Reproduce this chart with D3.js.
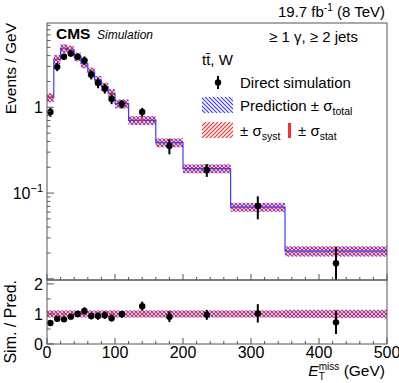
<!DOCTYPE html>
<html>
<head>
<meta charset="utf-8">
<script src="https://cdn.jsdelivr.net/npm/d3@7"></script>
<style>
  body { margin: 0; background: #fff; }
  text { font-family: "Liberation Sans", Arial, Helvetica, sans-serif; fill: #000; }
</style>
</head>
<body>
<div id="chart"></div>
<script>
// MET distribution, ttbar + W, >=1 photon >=2 jets
var binEdges = [0, 10, 20, 30, 40, 50, 60, 70, 80, 90, 100, 120, 160, 200, 270, 350, 500];
var predVals = [1.30, 3.63, 4.85, 4.65, 3.88, 3.23, 2.59, 2.07, 1.73, 1.45, 1.10, 0.705, 0.387, 0.193, 0.0687, 0.0211];
var simVals  = [0.88, 2.96, 3.88, 4.23, 3.88, 3.52, 2.40, 1.92, 1.66, 1.25, 1.09, 0.88, 0.354, 0.186, 0.0706, 0.0152];
var simRelErr = [0.12, 0.11, 0.08, 0.08, 0.08, 0.11, 0.12, 0.13, 0.13, 0.13, 0.11, 0.12, 0.20, 0.17, 0.30, 0.54];
var ratioVals = [0.70, 0.84, 0.82, 0.91, 1.00, 1.10, 0.93, 0.93, 0.96, 0.86, 0.99, 1.26, 0.91, 0.97, 1.02, 0.72];
var totRelErr  = [0.12, 0.12, 0.12, 0.12, 0.12, 0.12, 0.12, 0.12, 0.12, 0.12, 0.12, 0.12, 0.12, 0.12, 0.12, 0.14];
var systRelErr = [0.11, 0.11, 0.11, 0.11, 0.11, 0.11, 0.11, 0.11, 0.11, 0.11, 0.11, 0.11, 0.11, 0.11, 0.11, 0.12];
var statRelErr = [0.03, 0.02, 0.02, 0.02, 0.02, 0.02, 0.03, 0.03, 0.03, 0.03, 0.03, 0.03, 0.04, 0.05, 0.07, 0.13];
var xTicks = [0, 100, 200, 300, 400, 500];
var ratioTicks = [0, 1, 2];

var width = 399, height = 383;
var L = 47, R = 387, T = 23, M = 280, B = 344;

var blue = "#3c3cff", red = "#ff2a2a";

var svg = d3.select("#chart").append("svg")
    .attr("width", width)
    .attr("height", height);

var defs = svg.append("defs");
defs.append("pattern")
    .attr("id", "hatchBlue")
    .attr("patternUnits", "userSpaceOnUse")
    .attr("width", 4).attr("height", 4)
  .append("path")
    .attr("d", "M-1,-1 L5,5 M3,-1 L5,1 M-1,3 L1,5")
    .attr("stroke", blue).attr("stroke-width", 1.2);
defs.append("pattern")
    .attr("id", "hatchRed")
    .attr("patternUnits", "userSpaceOnUse")
    .attr("width", 4).attr("height", 4)
  .append("path")
    .attr("d", "M-1,5 L5,-1 M-1,1 L1,-1 M3,5 L5,3")
    .attr("stroke", red).attr("stroke-width", 1.2);
defs.append("clipPath").attr("id", "clipTop")
  .append("rect").attr("x", L).attr("y", T).attr("width", R - L).attr("height", M - T);
defs.append("clipPath").attr("id", "clipBot")
  .append("rect").attr("x", L).attr("y", M).attr("width", R - L).attr("height", B - M);

var x = d3.scaleLinear().domain([0, 500]).range([L, R]);
var y = d3.scaleLog().domain([0.0097, 9.6]).range([M, T]);
var yr = d3.scaleLinear().domain([0, 2.13]).range([B, M]);

var bins = predVals.map(function(p, i) {
  return { x0: binEdges[i], x1: binEdges[i + 1], xc: (binEdges[i] + binEdges[i + 1]) / 2,
           pred: p, sim: simVals[i], simErr: simVals[i] * simRelErr[i], rel: simRelErr[i],
           ratio: ratioVals[i], tot: totRelErr[i], syst: systRelErr[i], stat: statRelErr[i] };
});

// ---------- upper panel ----------
var gTop = svg.append("g").attr("clip-path", "url(#clipTop)");

gTop.selectAll("rect.tot").data(bins).enter().append("rect")
    .attr("class", "tot")
    .attr("x", function(d) { return x(d.x0); })
    .attr("width", function(d) { return x(d.x1) - x(d.x0); })
    .attr("y", function(d) { return y(d.pred * (1 + d.tot)); })
    .attr("height", function(d) { return y(d.pred * (1 - d.tot)) - y(d.pred * (1 + d.tot)); })
    .attr("fill", "url(#hatchBlue)");
gTop.selectAll("rect.syst").data(bins).enter().append("rect")
    .attr("class", "syst")
    .attr("x", function(d) { return x(d.x0); })
    .attr("width", function(d) { return x(d.x1) - x(d.x0); })
    .attr("y", function(d) { return y(d.pred * (1 + d.syst)); })
    .attr("height", function(d) { return y(d.pred * (1 - d.syst)) - y(d.pred * (1 + d.syst)); })
    .attr("fill", "url(#hatchRed)");

var stepPts = bins.map(function(d) { return [d.x0, d.pred]; });
stepPts.push([500, predVals[predVals.length - 1]]);
gTop.append("path")
    .datum(stepPts)
    .attr("fill", "none")
    .attr("stroke", blue)
    .attr("stroke-width", 1.2)
    .attr("d", d3.line().curve(d3.curveStepAfter)
      .x(function(d) { return x(d[0]); })
      .y(function(d) { return y(d[1]); }));

gTop.selectAll("line.stat").data(bins).enter().append("line")
    .attr("class", "stat")
    .attr("x1", function(d) { return x(d.xc); }).attr("x2", function(d) { return x(d.xc); })
    .attr("y1", function(d) { return y(d.pred * (1 + d.stat)); })
    .attr("y2", function(d) { return y(d.pred * (1 - d.stat)); })
    .attr("stroke", red).attr("stroke-width", 2.5);

gTop.selectAll("line.err").data(bins).enter().append("line")
    .attr("class", "err")
    .attr("x1", function(d) { return x(d.xc); }).attr("x2", function(d) { return x(d.xc); })
    .attr("y1", function(d) { return y(d.sim + d.simErr); })
    .attr("y2", function(d) { return y(Math.max(d.sim - d.simErr, 1e-4)); })
    .attr("stroke", "#000").attr("stroke-width", 2);
gTop.selectAll("circle").data(bins).enter().append("circle")
    .attr("cx", function(d) { return x(d.xc); })
    .attr("cy", function(d) { return y(d.sim); })
    .attr("r", 3.2).attr("fill", "#000");

// ---------- ratio panel ----------
var gBot = svg.append("g").attr("clip-path", "url(#clipBot)");
gBot.selectAll("rect.tot").data(bins).enter().append("rect")
    .attr("class", "tot")
    .attr("x", function(d) { return x(d.x0); })
    .attr("width", function(d) { return x(d.x1) - x(d.x0); })
    .attr("y", function(d) { return yr(1 + d.tot); })
    .attr("height", function(d) { return yr(1 - d.tot) - yr(1 + d.tot); })
    .attr("fill", "url(#hatchBlue)");
gBot.selectAll("rect.syst").data(bins).enter().append("rect")
    .attr("class", "syst")
    .attr("x", function(d) { return x(d.x0); })
    .attr("width", function(d) { return x(d.x1) - x(d.x0); })
    .attr("y", function(d) { return yr(1 + d.syst); })
    .attr("height", function(d) { return yr(1 - d.syst) - yr(1 + d.syst); })
    .attr("fill", "url(#hatchRed)");
gBot.selectAll("line.stat").data(bins).enter().append("line")
    .attr("class", "stat")
    .attr("x1", function(d) { return x(d.xc); }).attr("x2", function(d) { return x(d.xc); })
    .attr("y1", function(d) { return yr(1 + d.stat); })
    .attr("y2", function(d) { return yr(1 - d.stat); })
    .attr("stroke", red).attr("stroke-width", 2.5);
gBot.selectAll("line.err").data(bins).enter().append("line")
    .attr("class", "err")
    .attr("x1", function(d) { return x(d.xc); }).attr("x2", function(d) { return x(d.xc); })
    .attr("y1", function(d) { return yr(d.ratio * (1 + d.rel)); })
    .attr("y2", function(d) { return yr(d.ratio * (1 - d.rel)); })
    .attr("stroke", "#000").attr("stroke-width", 2);
gBot.selectAll("circle").data(bins).enter().append("circle")
    .attr("cx", function(d) { return x(d.xc); })
    .attr("cy", function(d) { return yr(d.ratio); })
    .attr("r", 3.2).attr("fill", "#000");

// ---------- frames & axes ----------
var frameCol = "#555";
svg.append("rect").attr("x", L).attr("y", T).attr("width", R - L).attr("height", M - T)
    .attr("fill", "none").attr("stroke", frameCol).attr("stroke-width", 1);
svg.append("rect").attr("x", L).attr("y", M).attr("width", R - L).attr("height", B - M)
    .attr("fill", "none").attr("stroke", frameCol).attr("stroke-width", 1);

// x ticks (both panels), pointing up from bottom edge
var xMinor = d3.range(0, 501, 20);
[M, B].forEach(function(base) {
  svg.append("g").selectAll("line").data(xMinor).enter().append("line")
      .attr("x1", function(d) { return x(d); }).attr("x2", function(d) { return x(d); })
      .attr("y1", base)
      .attr("y2", function(d) { return base - (d % 100 === 0 ? 6 : 3); })
      .attr("stroke", frameCol);
});

// log y ticks
var logTicks = y.ticks().filter(function(v) { return v >= y.domain()[0] && v <= y.domain()[1]; });
svg.append("g").selectAll("line").data(logTicks).enter().append("line")
    .attr("x1", L).attr("x2", function(d) {
      var m = d / Math.pow(10, Math.floor(Math.log10(d) + 1e-9));
      return L + (Math.abs(m - 1) < 1e-6 ? 7 : 3.5);
    })
    .attr("y1", function(d) { return y(d); }).attr("y2", function(d) { return y(d); })
    .attr("stroke", frameCol);

// ratio y ticks
svg.append("g").selectAll("line").data(d3.range(0, 2.01, 0.5)).enter().append("line")
    .attr("x1", L).attr("x2", function(d) { return L + (d % 1 === 0 ? 7 : 3.5); })
    .attr("y1", function(d) { return yr(d); }).attr("y2", function(d) { return yr(d); })
    .attr("stroke", frameCol);

// tick labels
var fs = 16;
svg.append("g").selectAll("text").data(xTicks).enter().append("text")
    .attr("x", function(d) { return x(d); }).attr("y", 357.5)
    .attr("text-anchor", "middle").attr("font-size", fs)
    .text(function(d) { return d; });
svg.append("g").selectAll("text").data(ratioTicks).enter().append("text")
    .attr("x", L - 4).attr("y", function(d) { return yr(d) + 6; })
    .attr("text-anchor", "end").attr("font-size", fs)
    .text(function(d) { return d; });

svg.append("text").attr("x", L - 4).attr("y", y(1) + 6)
    .attr("text-anchor", "end").attr("font-size", fs).text("1");
var tenth = svg.append("text").attr("x", L - 4).attr("y", y(0.1) + 6)
    .attr("text-anchor", "end").attr("font-size", fs);
tenth.append("tspan").text("10");
tenth.append("tspan").attr("dy", -7).attr("font-size", 11).text("\u22121");

// axis titles
svg.append("text")
    .attr("transform", "translate(16," + T + ") rotate(-90)")
    .attr("text-anchor", "end").attr("font-size", 15.5)
    .text("Events / GeV");
svg.append("text")
    .attr("transform", "translate(16," + M + ") rotate(-90)")
    .attr("text-anchor", "end").attr("font-size", 16)
    .text("Sim. / Pred.");

var xt = svg.append("text").attr("x", R - 2).attr("y", 376)
    .attr("text-anchor", "end").attr("font-size", 15.5);
xt.append("tspan").attr("font-style", "italic").text("E");
xt.append("tspan").attr("font-size", 10).attr("dy", 4).text("T");
xt.append("tspan").attr("font-size", 10).attr("dx", -6).attr("dy", -10).text("miss");
xt.append("tspan").attr("dy", 6).text(" (GeV)");

// CMS label
svg.append("text").attr("x", 56).attr("y", 39)
    .attr("font-size", 15.5).attr("font-weight", "bold").text("CMS");
svg.append("text").attr("x", 97).attr("y", 39)
    .attr("font-size", 12).attr("font-style", "italic").text("Simulation");

// lumi
var lumi = svg.append("text").attr("x", 385).attr("y", 17)
    .attr("text-anchor", "end").attr("font-size", 15);
lumi.append("tspan").text("19.7 fb");
lumi.append("tspan").attr("font-size", 10).attr("dy", -6).text("-1");
lumi.append("tspan").attr("dy", 6).text(" (8 TeV)");

// selection + legend
var lfs = 15;
svg.append("text").attr("x", 358).attr("y", 42).attr("text-anchor", "end")
    .attr("font-size", lfs).text("\u2265 1 \u03b3, \u2265 2 jets");
svg.append("text").attr("x", 202).attr("y", 65).attr("font-size", lfs).text("tt\u0304, W");

svg.append("line").attr("x1", 218).attr("x2", 218).attr("y1", 76).attr("y2", 89)
    .attr("stroke", "#000").attr("stroke-width", 2);
svg.append("circle").attr("cx", 218).attr("cy", 82.5).attr("r", 3.2).attr("fill", "#000");
svg.append("text").attr("x", 240).attr("y", 88).attr("font-size", lfs).text("Direct simulation");

svg.append("rect").attr("x", 202).attr("y", 97).attr("width", 31).attr("height", 16)
    .attr("fill", "url(#hatchBlue)");
var lp = svg.append("text").attr("x", 240).attr("y", 111).attr("font-size", lfs);
lp.append("tspan").text("Prediction \u00b1 \u03c3");
lp.append("tspan").attr("font-size", 10.5).attr("dy", 4).text("total");

svg.append("rect").attr("x", 202).attr("y", 122).attr("width", 31).attr("height", 16)
    .attr("fill", "url(#hatchRed)");
var ls = svg.append("text").attr("x", 240).attr("y", 136).attr("font-size", lfs);
ls.append("tspan").text("\u00b1 \u03c3");
ls.append("tspan").attr("font-size", 10.5).attr("dy", 4).text("syst");
svg.append("rect").attr("x", 288).attr("y", 123).attr("width", 3).attr("height", 15).attr("fill", red);
var lst = svg.append("text").attr("x", 298).attr("y", 136).attr("font-size", lfs);
lst.append("tspan").text("\u00b1 \u03c3");
lst.append("tspan").attr("font-size", 10.5).attr("dy", 4).text("stat");
</script>
</body>
</html>
